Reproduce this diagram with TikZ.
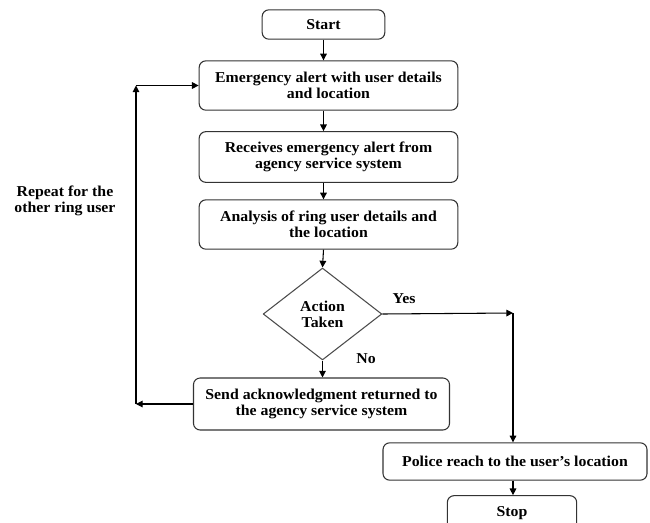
\documentclass[tikz,border=0pt]{standalone}
\usepackage{fontspec}
\setmainfont{Liberation Serif}[FakeStretch=1.05]
\usetikzlibrary{shapes.geometric,arrows.meta}
\begin{document}
\begin{tikzpicture}[x=0.75pt,y=-0.75pt,>={Triangle[length=5pt,width=5pt]},line join=round,
		font=\fontsize{11.3}{11.8}\selectfont\bfseries,
		box/.style={draw=black!80,line width=0.8pt,rounded corners=5pt,align=center,inner sep=1pt},
		decide/.style={draw=black!70,line width=0.8pt,diamond,shape aspect=1.3,inner sep=0pt,align=center},
		arr/.style={->,line width=0.8pt}]
	\useasboundingbox (0,0) rectangle (650,522);
	% boxes, at pixel positions of the picture
	\node [box,minimum width=92pt,minimum height=22pt] (start) at (323.5,24.5) {Start};
	\node [box,minimum width=194pt,minimum height=37pt] (alert) at (328.5,85.5) {Emergency alert with user details\\and location};
	\node [box,minimum width=194pt,minimum height=38pt] (recv) at (328.5,157) {Receives emergency alert from\\agency service system};
	\node [box,minimum width=194pt,minimum height=37pt] (anal) at (328.5,224.5) {Analysis of ring user details and\\the location};
	\node [decide,minimum width=89pt,minimum height=69pt] (act) at (322.5,314) {Action\\Taken};
	\node [box,minimum width=192pt,minimum height=39pt] (send) at (321.5,404) {Send acknowledgment returned to\\the agency service system};
	\node [box,minimum width=198pt,minimum height=28pt] (police) at (515,461.5) {Police reach to the user's location};
	\node [box,minimum width=97pt,minimum height=26pt] (stop) at (512,513) {Stop};
	\node [align=center] (rep) at (65,201) {Repeat for the\\other ring user};
	\node (yes) at (404,299) {Yes};
	\node (no) at (366,359) {No};
	% connectors
	\coordinate (lpa) at (136,404);
	\coordinate (lpb) at (136,85.5);
	\coordinate (yc) at (513,313);
	\draw [arr] (start.south) -- (start.south |- alert.north);
	\draw [arr] (start.south |- alert.south) -- (start.south |- recv.north);
	\draw [arr] (start.south |- recv.south) -- (start.south |- anal.north);
	\draw [arr] (start.south |- anal.south) -- (act.north);
	\draw [arr] (act.south) -- (act.south |- send.north);
	\draw [arr] (send.west) -- (lpa);
	\draw [arr] (lpa) -- (lpb);
	\draw [arr] (lpb) -- (alert.west);
	\draw [arr] (act.east) -- (yc);
	\draw [arr] (yc) -- (yc |- police.north);
	\draw [arr] (yc |- police.south) -- (yc |- stop.north);
\end{tikzpicture}
\end{document}
